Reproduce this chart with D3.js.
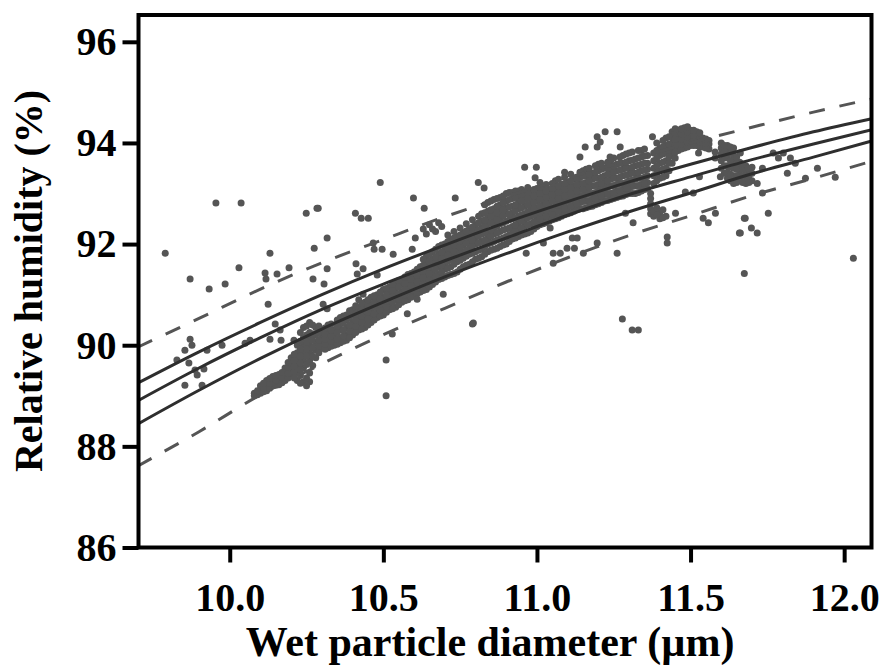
<!DOCTYPE html>
<html><head><meta charset="utf-8">
<script src="https://cdn.jsdelivr.net/npm/d3@7/dist/d3.min.js"></script>
<style>body{margin:0;background:#fff}svg{display:block}</style>
</head><body><svg id="c" width="879" height="671"></svg>
<script>
// ---- data ----
const xTicks = [10.0, 10.5, 11.0, 11.5, 12.0];
const yTicks = [86, 88, 90, 92, 94, 96];
const xTitle = "Wet particle diameter (\u00b5m)";
const yTitle = "Relative humidity (%)";

// fitted curves
const fitX        = [9.70, 9.90, 10.10, 10.30, 10.50, 10.70, 10.90, 11.10, 11.30, 11.50, 11.70, 11.90, 12.09];
const upperSolid  = [89.25, 89.87, 90.45, 91.00, 91.51, 91.98, 92.43, 92.84, 93.23, 93.58, 93.91, 94.22, 94.48];
const middleSolid = [88.90, 89.55, 90.15, 90.71, 91.21, 91.67, 92.12, 92.57, 92.98, 93.33, 93.67, 93.98, 94.26];
const lowerSolid  = [88.44, 89.11, 89.74, 90.32, 90.85, 91.35, 91.81, 92.24, 92.64, 93.01, 93.39, 93.72, 94.04];
const upperDashed = [89.96, 90.53, 91.11, 91.63, 92.09, 92.54, 92.94, 93.31, 93.66, 94.00, 94.31, 94.61, 94.87];
const lowerDashed = [87.61, 88.29, 89.02, 89.63, 90.21, 90.73, 91.25, 91.73, 92.17, 92.56, 92.96, 93.30, 93.64];

// dense band of observations: [diameter, rh1, rh2, ...]
const bandSlices = [
  [10.08, 89.00, 89.05],
  [10.10, 89.05, 89.12, 89.20],
  [10.12, 89.10, 89.20, 89.30],
  [10.14, 89.20, 89.30, 89.38],
  [10.16, 89.22, 89.32, 89.42],
  [10.18, 89.30, 89.40, 89.50, 89.55],
  [10.20, 89.40, 89.50, 89.62, 89.75],
  [10.22, 89.30, 89.45, 89.60, 89.72, 89.85, 90.00],
  [10.24, 89.28, 89.55, 89.70, 89.85, 90.00, 90.15, 90.35],
  [10.26, 89.28, 89.45, 89.70, 89.85, 90.00, 90.12, 90.25, 90.45],
  [10.28, 89.75, 89.90, 90.05, 90.20, 90.35],
  [10.30, 89.95, 90.05, 90.15, 90.25],
  [10.32, 89.95, 90.05, 90.15, 90.28, 90.40],
  [10.34, 90.00, 90.10, 90.20, 90.30],
  [10.36, 90.05, 90.15, 90.30, 90.42, 90.55],
  [10.38, 90.10, 90.20, 90.35, 90.50, 90.60],
  [10.40, 90.20, 90.32, 90.45, 90.60, 90.70],
  [10.42, 90.30, 90.42, 90.55, 90.65, 90.75, 90.90],
  [10.44, 90.35, 90.50, 90.60, 90.75, 90.85],
  [10.46, 90.45, 90.58, 90.70, 90.80, 90.95],
  [10.48, 90.55, 90.65, 90.80, 90.90, 91.00],
  [10.50, 90.60, 90.72, 90.85, 90.95, 91.10],
  [10.52, 90.70, 90.80, 90.92, 91.05, 91.15],
  [10.54, 90.75, 90.90, 91.00, 91.12, 91.25],
  [10.56, 90.85, 90.95, 91.05, 91.20, 91.30],
  [10.58, 90.90, 91.05, 91.15, 91.25, 91.40],
  [10.60, 91.00, 91.10, 91.22, 91.35, 91.45],
  [10.62, 91.05, 91.15, 91.30, 91.42, 91.55],
  [10.64, 91.10, 91.25, 91.38, 91.50, 91.62, 91.75],
  [10.66, 91.20, 91.32, 91.45, 91.58, 91.70, 91.85],
  [10.68, 91.30, 91.40, 91.55, 91.68, 91.80, 91.95],
  [10.70, 91.35, 91.50, 91.62, 91.75, 91.88, 92.00],
  [10.72, 91.40, 91.55, 91.70, 91.82, 91.95, 92.08],
  [10.74, 91.45, 91.65, 91.78, 91.90, 92.02, 92.15],
  [10.76, 91.55, 91.72, 91.85, 91.98, 92.10, 92.22],
  [10.78, 91.60, 91.80, 91.92, 92.05, 92.18, 92.30],
  [10.80, 91.70, 91.85, 92.00, 92.12, 92.25, 92.38],
  [10.82, 91.75, 91.90, 92.05, 92.20, 92.32, 92.45, 92.60],
  [10.84, 91.85, 92.00, 92.12, 92.25, 92.40, 92.52, 92.65, 92.82],
  [10.86, 91.90, 92.05, 92.20, 92.32, 92.45, 92.58, 92.70, 92.88],
  [10.88, 91.95, 92.10, 92.25, 92.40, 92.52, 92.65, 92.78, 92.92],
  [10.90, 92.00, 92.15, 92.30, 92.45, 92.60, 92.72, 92.85, 93.00],
  [10.92, 92.10, 92.22, 92.35, 92.50, 92.62, 92.75, 92.90, 93.02],
  [10.94, 92.15, 92.30, 92.42, 92.55, 92.70, 92.82, 92.95, 93.05],
  [10.96, 92.20, 92.35, 92.48, 92.60, 92.75, 92.88, 93.00],
  [10.98, 92.25, 92.40, 92.55, 92.68, 92.80, 92.92, 93.05],
  [11.00, 92.35, 92.48, 92.60, 92.72, 92.85, 92.98, 93.10],
  [11.02, 92.40, 92.52, 92.65, 92.78, 92.90, 93.02, 93.15],
  [11.04, 92.45, 92.58, 92.70, 92.82, 92.95, 93.08],
  [11.06, 92.50, 92.62, 92.75, 92.88, 93.00, 93.12, 93.25],
  [11.08, 92.55, 92.68, 92.80, 92.92, 93.05, 93.18],
  [11.10, 92.60, 92.72, 92.85, 92.98, 93.10, 93.22],
  [11.12, 92.65, 92.78, 92.90, 93.02, 93.15, 93.28],
  [11.14, 92.70, 92.82, 92.95, 93.08, 93.20, 93.32],
  [11.16, 92.72, 92.85, 92.98, 93.10, 93.22, 93.35, 93.48],
  [11.18, 92.75, 92.88, 93.00, 93.15, 93.28, 93.40],
  [11.20, 92.80, 92.92, 93.05, 93.18, 93.30, 93.45, 93.58],
  [11.22, 92.85, 92.98, 93.10, 93.22, 93.35, 93.50],
  [11.24, 92.88, 93.00, 93.15, 93.28, 93.40, 93.52, 93.65],
  [11.26, 92.92, 93.05, 93.18, 93.30, 93.45, 93.58],
  [11.28, 92.95, 93.08, 93.20, 93.35, 93.48, 93.60, 93.75],
  [11.30, 93.00, 93.12, 93.25, 93.38, 93.50, 93.65, 93.80],
  [11.32, 93.00, 93.15, 93.28, 93.40, 93.55, 93.68],
  [11.34, 93.05, 93.18, 93.30, 93.45, 93.58, 93.72, 93.85],
  [11.36, 93.10, 93.22, 93.35, 93.48, 93.60, 93.75],
  [11.37, 92.60, 92.70, 92.80, 92.90, 93.00],
  [11.38, 92.55, 92.65, 93.20, 93.35, 93.50, 93.65, 93.80],
  [11.40, 92.50, 92.62, 93.30, 93.45, 93.60, 93.75, 93.90],
  [11.42, 92.55, 93.35, 93.50, 93.65, 93.80, 93.95, 94.10],
  [11.44, 93.60, 93.75, 93.88, 94.00, 94.12, 94.22],
  [11.46, 93.85, 93.95, 94.05, 94.15, 94.25],
  [11.48, 93.90, 94.00, 94.10, 94.20, 94.30],
  [11.50, 93.95, 94.05, 94.15, 94.25],
  [11.52, 93.95, 94.05, 94.15, 94.22],
  [11.54, 93.92, 94.02, 94.10],
  [11.56, 93.88, 93.98, 94.05],
  [11.58, 93.70, 93.82],
  [11.60, 93.50, 93.65, 93.78, 93.90, 94.00],
  [11.62, 93.30, 93.42, 93.55, 93.70, 93.85, 93.95],
  [11.64, 93.20, 93.35, 93.50, 93.62, 93.75, 93.90],
  [11.66, 93.25, 93.38, 93.50, 93.62],
  [11.68, 93.20, 93.32, 93.45, 93.55],
  [11.70, 93.25, 93.40, 93.52]
];

// more band observations lying between the slices above
const bandSlicesOffset = [
  [10.09, 89.02, 89.10],
  [10.11, 89.08, 89.16, 89.25],
  [10.13, 89.15, 89.25, 89.34],
  [10.15, 89.21, 89.31, 89.40],
  [10.17, 89.26, 89.36, 89.46],
  [10.19, 89.35, 89.45, 89.56, 89.66],
  [10.21, 89.35, 89.48, 89.58, 89.70, 89.82],
  [10.23, 89.25, 89.40, 89.52, 89.65, 89.78, 89.92, 90.08, 90.25],
  [10.25, 89.20, 89.35, 89.62, 89.78, 89.92, 90.06, 90.20, 90.38],
  [10.27, 89.60, 89.78, 89.95, 90.10, 90.22, 90.40],
  [10.29, 89.85, 89.98, 90.10, 90.25, 90.38],
  [10.31, 89.92, 90.02, 90.12, 90.22, 90.34],
  [10.33, 89.98, 90.08, 90.18, 90.30, 90.42],
  [10.35, 90.02, 90.12, 90.25, 90.38, 90.50],
  [10.37, 90.08, 90.18, 90.30, 90.45, 90.58],
  [10.39, 90.15, 90.28, 90.40, 90.55, 90.68],
  [10.41, 90.25, 90.38, 90.50, 90.62, 90.78],
  [10.43, 90.32, 90.45, 90.58, 90.70, 90.82],
  [10.45, 90.40, 90.52, 90.65, 90.78, 90.90],
  [10.47, 90.50, 90.62, 90.75, 90.85, 90.98],
  [10.49, 90.58, 90.70, 90.82, 90.92, 91.05],
  [10.51, 90.65, 90.76, 90.88, 91.00, 91.12],
  [10.53, 90.72, 90.85, 90.96, 91.08, 91.20],
  [10.55, 90.80, 90.92, 91.02, 91.15, 91.28],
  [10.57, 90.88, 91.00, 91.10, 91.22, 91.35],
  [10.59, 90.95, 91.08, 91.18, 91.30, 91.42],
  [10.61, 91.02, 91.12, 91.25, 91.38, 91.50],
  [10.63, 91.08, 91.20, 91.34, 91.46, 91.58, 91.70],
  [10.65, 91.15, 91.28, 91.42, 91.55, 91.66, 91.80],
  [10.67, 91.25, 91.36, 91.50, 91.62, 91.75, 91.90],
  [10.69, 91.32, 91.45, 91.58, 91.72, 91.84, 91.98],
  [10.71, 91.38, 91.52, 91.66, 91.78, 91.92, 92.05, 92.18],
  [10.73, 91.42, 91.60, 91.74, 91.86, 91.98, 92.12, 92.25],
  [10.75, 91.50, 91.68, 91.82, 91.94, 92.06, 92.18, 92.32],
  [10.77, 91.58, 91.76, 91.88, 92.02, 92.14, 92.26, 92.40],
  [10.79, 91.65, 91.82, 91.96, 92.08, 92.22, 92.34, 92.48],
  [10.81, 91.72, 91.88, 92.02, 92.16, 92.28, 92.42, 92.55],
  [10.83, 91.80, 91.95, 92.08, 92.22, 92.36, 92.48, 92.62, 92.78],
  [10.85, 91.88, 92.02, 92.16, 92.28, 92.42, 92.55, 92.68, 92.85],
  [10.87, 91.92, 92.08, 92.22, 92.36, 92.48, 92.62, 92.75, 92.90],
  [10.89, 91.98, 92.12, 92.28, 92.42, 92.56, 92.68, 92.82, 92.95],
  [10.91, 92.05, 92.18, 92.32, 92.48, 92.60, 92.74, 92.88, 93.02],
  [10.93, 92.12, 92.26, 92.38, 92.52, 92.66, 92.78, 92.92, 93.05],
  [10.95, 92.18, 92.32, 92.45, 92.58, 92.72, 92.85, 92.98, 93.08],
  [10.97, 92.22, 92.38, 92.52, 92.64, 92.78, 92.90, 93.02, 93.12],
  [10.99, 92.30, 92.44, 92.58, 92.70, 92.82, 92.95, 93.08],
  [11.01, 92.38, 92.50, 92.62, 92.75, 92.88, 93.00, 93.12, 93.22],
  [11.03, 92.42, 92.55, 92.68, 92.80, 92.92, 93.05, 93.18],
  [11.05, 92.48, 92.60, 92.72, 92.85, 92.98, 93.10, 93.20],
  [11.07, 92.52, 92.65, 92.78, 92.90, 93.02, 93.15, 93.28],
  [11.09, 92.58, 92.70, 92.82, 92.95, 93.08, 93.20, 93.32],
  [11.11, 92.62, 92.75, 92.88, 93.00, 93.12, 93.25, 93.38],
  [11.13, 92.68, 92.80, 92.92, 93.05, 93.18, 93.30],
  [11.15, 92.70, 92.84, 92.96, 93.08, 93.20, 93.34, 93.45],
  [11.17, 92.74, 92.86, 93.00, 93.12, 93.25, 93.38, 93.50],
  [11.19, 92.78, 92.90, 93.02, 93.16, 93.30, 93.42, 93.55],
  [11.21, 92.82, 92.95, 93.08, 93.20, 93.32, 93.48, 93.60],
  [11.23, 92.86, 92.99, 93.12, 93.25, 93.38, 93.50, 93.62],
  [11.25, 92.90, 93.02, 93.16, 93.30, 93.42, 93.55, 93.70],
  [11.27, 92.94, 93.06, 93.20, 93.32, 93.46, 93.60, 93.72],
  [11.29, 92.98, 93.10, 93.22, 93.36, 93.50, 93.62, 93.78],
  [11.31, 93.00, 93.14, 93.26, 93.40, 93.52, 93.66, 93.82],
  [11.33, 93.02, 93.16, 93.30, 93.42, 93.56, 93.70, 93.85],
  [11.35, 93.08, 93.20, 93.32, 93.46, 93.60, 93.74, 93.88],
  [11.39, 92.58, 92.72, 93.25, 93.40, 93.55, 93.70, 93.85, 94.00],
  [11.41, 92.52, 92.68, 93.32, 93.48, 93.62, 93.78, 93.92, 94.05],
  [11.43, 93.45, 93.60, 93.72, 93.85, 93.98, 94.12],
  [11.45, 93.70, 93.82, 93.95, 94.08, 94.20, 94.28],
  [11.47, 93.88, 93.98, 94.08, 94.18, 94.28],
  [11.49, 93.92, 94.02, 94.12, 94.22, 94.32],
  [11.51, 93.95, 94.05, 94.15, 94.25],
  [11.53, 93.92, 94.02, 94.12, 94.20],
  [11.55, 93.90, 94.00, 94.08],
  [11.61, 93.40, 93.55, 93.70, 93.82, 93.95],
  [11.63, 93.25, 93.38, 93.52, 93.65, 93.80, 93.92],
  [11.65, 93.22, 93.35, 93.48, 93.60, 93.72],
  [11.67, 93.22, 93.35, 93.48, 93.58],
  [11.69, 93.22, 93.35, 93.48]
];

// scattered observations: [diameter, rh]
const outliers = [
  [9.79, 91.82], [9.955, 92.81], [10.037, 92.81], [10.249, 92.61], [10.284, 92.71],
  [10.131, 91.82], [10.275, 91.92], [9.871, 91.31], [9.933, 91.11], [9.985, 91.21],
  [10.030, 91.53], [10.115, 91.43], [10.118, 91.31], [10.154, 91.41], [10.193, 91.53],
  [10.271, 91.31], [10.125, 90.81], [10.148, 90.42], [10.164, 90.30], [9.871, 90.12],
  [9.877, 90.00], [9.854, 89.90], [9.828, 89.71], [9.867, 89.65], [9.887, 89.51],
  [9.916, 89.53], [9.894, 89.41], [9.854, 89.21], [9.910, 89.21], [9.926, 89.90],
  [9.975, 90.00], [10.050, 90.04], [10.066, 90.10], [10.131, 90.12], [10.167, 90.10],
  [10.209, 90.10],
  [10.490, 93.22], [10.598, 92.91], [10.734, 92.91], [10.809, 93.22], [10.288, 92.71],
  [10.409, 92.61], [10.428, 92.51], [10.451, 92.51], [10.633, 92.71], [10.317, 92.12],
  [10.467, 92.02], [10.470, 91.90], [10.496, 91.90], [10.532, 91.80], [10.594, 91.90],
  [10.604, 92.12], [10.411, 91.61], [10.415, 91.41], [10.434, 91.51], [10.317, 91.51],
  [10.307, 91.21], [10.434, 91.01], [10.480, 91.39], [10.304, 90.81], [10.317, 90.72],
  [10.578, 90.62], [10.529, 90.22], [10.509, 89.71], [10.509, 89.00], [10.790, 90.42],
  [10.610, 90.91], [10.695, 91.01],
  [10.63, 92.30], [10.65, 92.38], [10.67, 92.25], [10.69, 92.35], [10.64, 92.20],
  [10.68, 92.42], [10.66, 92.30],
  [10.828, 93.11], [10.960, 93.52], [10.998, 93.52], [10.994, 93.31], [11.043, 92.32],
  [11.021, 92.02], [10.965, 91.82], [11.053, 91.82], [11.076, 91.82], [11.098, 91.92],
  [11.122, 91.92], [11.115, 92.12], [11.131, 92.12], [11.151, 91.82], [11.196, 92.02],
  [11.261, 91.82], [11.053, 91.62], [10.793, 90.44], [11.278, 90.52], [11.294, 93.11],
  [11.09, 93.42], [11.14, 93.42], [11.14, 93.72], [11.157, 93.92], [11.196, 93.92],
  [11.206, 94.02], [11.196, 94.12], [11.222, 94.22], [11.261, 94.22], [11.271, 93.92],
  [11.238, 93.72],
  [11.376, 94.12], [11.451, 92.61], [11.483, 93.03], [11.509, 93.01], [11.529, 93.33],
  [11.541, 92.51], [11.558, 92.42], [11.581, 92.61], [11.597, 93.33], [11.675, 92.51],
  [11.659, 92.22], [11.698, 92.32], [11.717, 92.22], [11.675, 91.42], [11.31, 90.30],
  [11.33, 90.30], [11.313, 92.42], [11.288, 92.61], [11.424, 92.14], [11.424, 92.02],
  [11.526, 93.80],
  [11.662, 93.80], [11.769, 93.80], [11.802, 93.80], [11.786, 93.70], [11.825, 93.70],
  [11.841, 93.60], [11.688, 93.50], [11.734, 93.50], [11.815, 93.40], [11.913, 93.50],
  [11.874, 93.30], [11.717, 93.20], [11.734, 93.01], [11.753, 92.61], [11.971, 93.32],
  [11.678, 92.51], [11.662, 92.22], [12.03, 91.72]
];

// ---- drawing ----
const FONT = "'Liberation Serif','Times New Roman',serif";
const plot = {l: 138.5, r: 871.5, t: 15, b: 547.5};
const x = d3.scaleLinear().domain([9.703, 12.089]).range([plot.l, plot.r]);
const y = d3.scaleLinear().domain([86, 96.53]).range([plot.b, plot.t]);

const svg = d3.select('#c');
svg.append('defs').append('clipPath').attr('id', 'clip')
  .append('rect').attr('x', plot.l).attr('y', plot.t)
  .attr('width', plot.r - plot.l).attr('height', plot.b - plot.t);

const pts = [];
bandSlices.concat(bandSlicesOffset).forEach(s => { for (let i = 1; i < s.length; i++) pts.push([s[0], s[i]]); });
outliers.forEach(p => pts.push(p));

const g = svg.append('g').attr('clip-path', 'url(#clip)');
g.selectAll('circle').data(pts).join('circle')
  .attr('cx', d => x(d[0])).attr('cy', d => y(d[1]))
  .attr('r', 3.5).attr('fill', '#555555');

const line = d3.line().x(d => x(d[0])).y(d => y(d[1])).curve(d3.curveMonotoneX);
const curves = [
  {v: upperDashed, dash: '16,15', color: '#555555'},
  {v: lowerDashed, dash: '16,15', color: '#555555'},
  {v: upperSolid, dash: null, color: '#2e2e2e'},
  {v: middleSolid, dash: null, color: '#2e2e2e'},
  {v: lowerSolid, dash: null, color: '#2e2e2e'}
];
curves.forEach(c => {
  g.append('path').datum(fitX.map((xx, i) => [xx, c.v[i]]))
    .attr('d', line).attr('fill', 'none')
    .attr('stroke', c.color).attr('stroke-width', 3)
    .attr('stroke-dasharray', c.dash);
});

// axes
const yAxis = d3.axisLeft(y).tickValues(yTicks).tickSize(16).tickPadding(6).tickFormat(d3.format('d'));
const xAxis = d3.axisBottom(x).tickValues(xTicks).tickSize(15).tickPadding(20).tickFormat(d3.format('.1f'));
const ya = svg.append('g').attr('transform', `translate(${plot.l},0)`).call(yAxis);
const xa = svg.append('g').attr('transform', `translate(0,${plot.b})`).call(xAxis);
[ya, xa].forEach(a => {
  a.select('.domain').remove();
  a.selectAll('.tick line').attr('stroke', '#000').attr('stroke-width', 4);
  a.selectAll('.tick text').attr('fill', '#000')
    .style('font-family', FONT).style('font-weight', 'bold').style('font-size', '40px');
});

// frame
svg.append('rect').attr('x', plot.l).attr('y', plot.t)
  .attr('width', plot.r - plot.l).attr('height', plot.b - plot.t)
  .attr('fill', 'none').attr('stroke', '#000').attr('stroke-width', 4);

// titles
svg.append('text').text(xTitle)
  .attr('x', 490).attr('y', 656).attr('text-anchor', 'middle')
  .style('font-family', FONT).style('font-weight', 'bold').style('font-size', '42px');
svg.append('text').text(yTitle)
  .attr('transform', 'translate(42,281) rotate(-90)').attr('text-anchor', 'middle')
  .style('font-family', FONT).style('font-weight', 'bold').style('font-size', '40px');
</script>
</body></html>
